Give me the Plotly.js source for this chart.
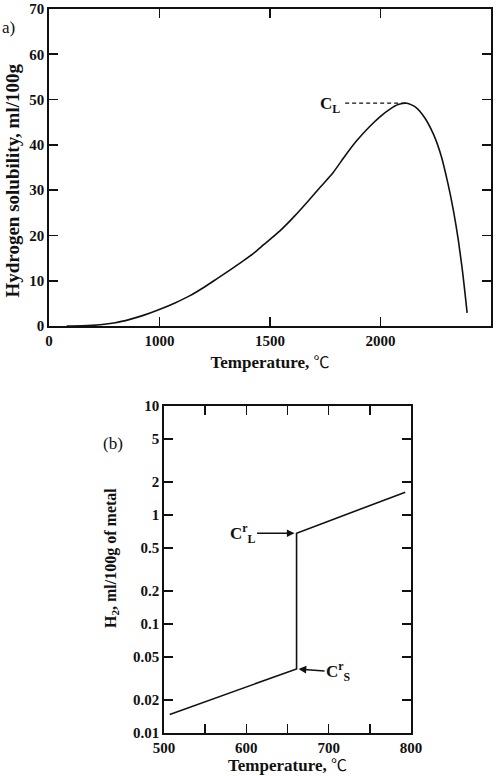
<!DOCTYPE html>
<html>
<head>
<meta charset="utf-8">
<script src="https://cdn.plot.ly/plotly-3.0.1.min.js"></script>
<style>
  html, body { margin: 0; padding: 0; background: #fff; }
  #chart { width: 504px; height: 776px; }
</style>
</head>
<body>
<div id="chart"></div>
<script>
// (a) Hydrogen solubility vs temperature
const tempA = [580, 650, 731, 800, 866, 930, 1002, 1070, 1138, 1200, 1259, 1320, 1379, 1430, 1470, 1545, 1610, 1673, 1730, 1786, 1840, 1892, 1950, 2000, 2043, 2080, 2120, 2160, 2200, 2240, 2275, 2305, 2330, 2352, 2370, 2383, 2392];
const solubilityA = [0, 0.05, 0.27, 0.7, 1.46, 2.4, 3.7, 5.1, 6.7, 8.5, 10.4, 12.4, 14.4, 16.2, 17.9, 21.0, 24.2, 27.6, 30.8, 33.9, 37.6, 40.9, 44.0, 46.3, 47.9, 48.9, 49.2, 48.3, 46.0, 42.3, 37.5, 31.5, 25.5, 19.0, 12.5, 7.0, 2.9];
const xTickValsA = [500, 1000, 1500, 2000, 2500];
const xTickTextA = ['0', '1000', '1500', '2000', '2500'];
const yTickValsA = [0, 10, 20, 30, 40, 50, 60, 70];

// (b) H2 content vs temperature (log scale)
const tempB = [507, 661, 661, 793];
const h2B = [0.0148, 0.0387, 0.68, 1.62];
const xTickValsB = [500, 600, 700, 800];
const xMinorTickValsB = [550, 650, 750];
const yTickValsB = [0.01, 0.02, 0.05, 0.1, 0.2, 0.5, 1, 2, 5, 10];
const yTickTextB = ['0.01', '0.02', '0.05', '0.1', '0.2', '0.5', '1', '2', '5', '10'];

// leader line for C_L starts here (temperature units)
const leaderStartA = 1840;

const W = 504, H = 776;
const serif = '"Liberation Serif", "Times New Roman", serif';
const degC = '<span style="font-family:\'Noto Sans CJK SC\';font-weight:normal;font-size:16px">℃</span>';

const peakIdx = solubilityA.indexOf(Math.max(...solubilityA));
const peakVal = solubilityA[peakIdx];
const peakT = tempA[peakIdx];

const axisCommon = {
  showline: true, linecolor: '#111', linewidth: 1.8,
  mirror: 'ticks', ticks: 'inside', ticklen: 9, tickwidth: 1.6, tickcolor: '#111',
  showgrid: false, zeroline: false, fixedrange: true,
  tickfont: { family: serif, size: 15, color: '#111', weight: 'bold' }
};

const traces = [
  {
    x: tempA, y: solubilityA, xaxis: 'x', yaxis: 'y',
    mode: 'lines', line: { color: '#111', width: 1.6, shape: 'spline', smoothing: 0.6 },
    hoverinfo: 'skip'
  },
  {
    x: [leaderStartA, peakT], y: [peakVal, peakVal], xaxis: 'x', yaxis: 'y',
    mode: 'lines', line: { color: '#111', width: 1.2, dash: '4px,3px' },
    hoverinfo: 'skip'
  },
  {
    x: tempB, y: h2B, xaxis: 'x2', yaxis: 'y2',
    mode: 'lines', line: { color: '#111', width: 1.6 },
    hoverinfo: 'skip'
  }
];

const layout = {
  width: W, height: H,
  margin: { l: 0, r: 0, t: 0, b: 0 },
  paper_bgcolor: '#fff', plot_bgcolor: '#fff',
  showlegend: false,
  font: { family: serif, color: '#111' },
  xaxis: Object.assign({}, axisCommon, {
    domain: [49 / W, 491 / W], anchor: 'y',
    range: [500, 2500], tickvals: xTickValsA, ticktext: xTickTextA,
    title: { text: 'Temperature, ' + degC, font: { family: serif, size: 17, weight: 'bold' }, standoff: 8 }
  }),
  yaxis: Object.assign({}, axisCommon, {
    domain: [(H - 326) / H, (H - 9) / H], anchor: 'x',
    range: [0, 70], tickvals: yTickValsA
  }),
  xaxis2: Object.assign({}, axisCommon, {
    domain: [164 / W, 411 / W], anchor: 'y2',
    range: [500, 800], tickvals: xTickValsB,
    minor: { tickvals: xMinorTickValsB, ticks: 'inside', ticklen: 9, tickwidth: 1.6, tickcolor: '#111', showgrid: false },
    title: { text: 'Temperature, ' + degC, font: { family: serif, size: 17, weight: 'bold' }, standoff: 10 }
  }),
  yaxis2: Object.assign({}, axisCommon, {
    domain: [43 / H, 370 / H], anchor: 'x2',
    type: 'log', range: [-2, 1], tickvals: yTickValsB, ticktext: yTickTextB
  }),
  annotations: [
    {
      // y-axis title, panel (a)
      xref: 'paper', yref: 'paper', x: 12.5 / W, y: (H - 181) / H,
      xanchor: 'center', yanchor: 'middle', textangle: -90, showarrow: false,
      text: 'Hydrogen solubility, ml/100g', font: { family: serif, size: 19, color: '#111', weight: 'bold' }
    },
    {
      // y-axis title, panel (b)
      xref: 'paper', yref: 'paper', x: 111 / W, y: (H - 558) / H,
      xanchor: 'center', yanchor: 'middle', textangle: -90, showarrow: false,
      text: 'H<sub>2</sub>, ml/100g of metal', font: { family: serif, size: 16, color: '#111', weight: 'bold' }
    },
    {
      xref: 'paper', yref: 'paper', x: 0, y: (H - 28) / H,
      xanchor: 'left', yanchor: 'middle', showarrow: false,
      text: 'a)', font: { family: serif, size: 17, color: '#111' }
    },
    {
      xref: 'x', yref: 'y', x: leaderStartA, y: peakVal,
      xanchor: 'right', yanchor: 'middle', xshift: -3, yshift: -2, showarrow: false,
      text: 'C<sub>L</sub>', font: { family: serif, size: 17, color: '#111', weight: 'bold' }
    },
    {
      xref: 'paper', yref: 'paper', x: 113 / W, y: (H - 443) / H,
      xanchor: 'center', yanchor: 'middle', showarrow: false,
      text: '(b)', font: { family: serif, size: 17, color: '#111' }
    },
    {
      xref: 'x2', yref: 'y2', x: tempB[2], y: Math.log10(h2B[2]),
      showarrow: true, arrowhead: 2, arrowsize: 1.1, arrowwidth: 1.4, arrowcolor: '#111',
      standoff: 2, ax: -54, ay: 0,
      text: 'C<sup>r</sup><sub>L</sub>', font: { family: serif, size: 17, color: '#111', weight: 'bold' }
    },
    {
      xref: 'x2', yref: 'y2', x: tempB[1], y: Math.log10(h2B[1]),
      showarrow: true, arrowhead: 2, arrowsize: 1.1, arrowwidth: 1.4, arrowcolor: '#111',
      standoff: 2, ax: 42, ay: 3,
      text: 'C<sup>r</sup><sub>S</sub>', font: { family: serif, size: 17, color: '#111', weight: 'bold' }
    }
  ]
};

Plotly.newPlot('chart', traces, layout, { staticPlot: true, displayModeBar: false });
</script>
</body>
</html>
